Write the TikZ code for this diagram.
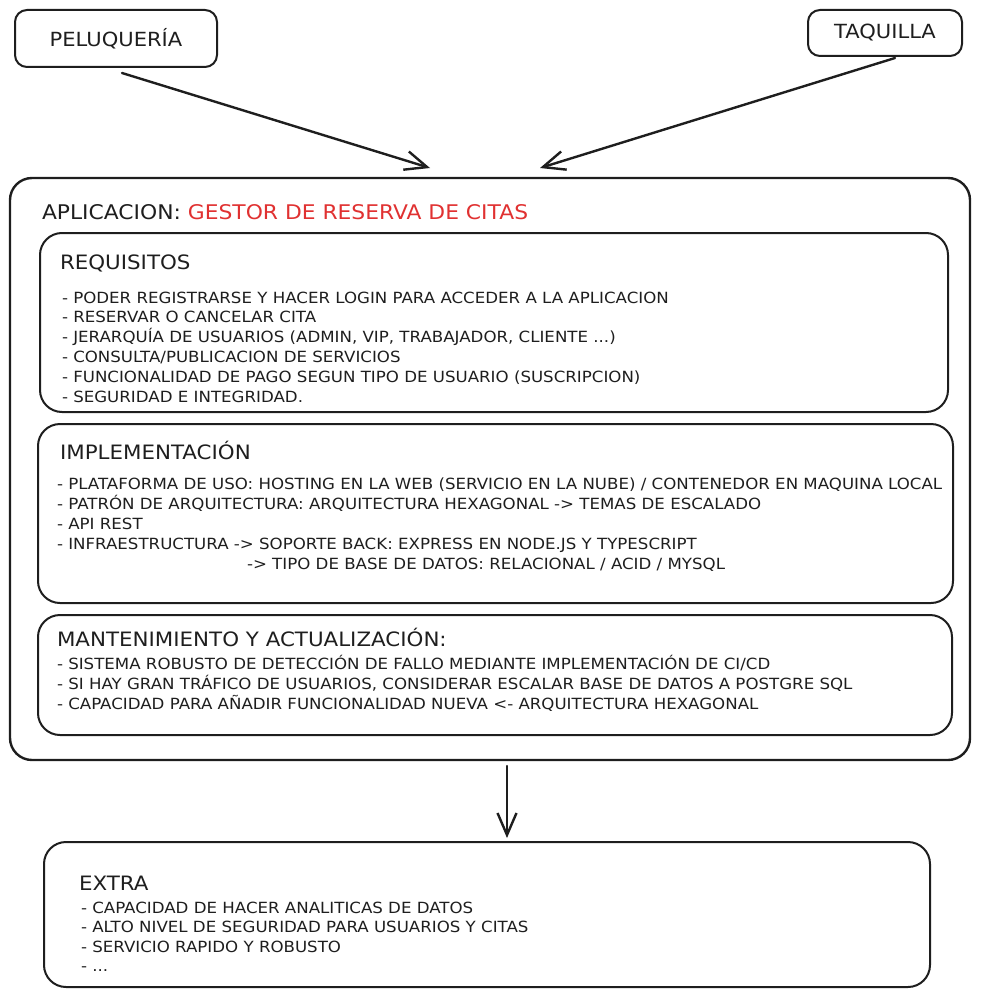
\documentclass[tikz,border=0pt]{standalone}
\usepackage{fontspec}
\setmainfont{DejaVu Sans}[FakeStretch=1.08]
\usetikzlibrary{arrows.meta,calc}
\definecolor{ink}{HTML}{1E1E1E}
\definecolor{accent}{HTML}{E03131}
\begin{document}
\begin{tikzpicture}[x=1pt,y=-1pt,
  frame/.style={draw=ink, line width=2pt, rounded corners=22pt, inner sep=0pt, outer sep=0pt},
  smallframe/.style={frame, rounded corners=12pt, text=ink, font=\fontsize{19.5}{22}\selectfont},
  body/.style={anchor=base west, inner sep=0pt, outer sep=0pt, text=ink, font=\fontsize{15.4}{18}\selectfont},
  head/.style={body, font=\fontsize{19.8}{22}\selectfont},
  conn/.style={draw=ink, line width=2.4pt, line cap=round,
    -{Straight Barb[length=22pt,width=19pt,line width=2.4pt]}}
]
\useasboundingbox (0,0) rectangle (980,998);

% sources
\node[smallframe, minimum width=202pt, minimum height=57pt] (pel) at (116,38.5) {PELUQUERÍA};
\node[smallframe, minimum width=154pt, minimum height=46pt] (taq) at (885,33) {TAQUILLA};

% application frame and its sections
\node[frame, line width=2.4pt, minimum width=960pt, minimum height=582pt] (app) at (490,469) {};
\node[frame, minimum width=908pt, minimum height=179pt] (req) at (494,322.5) {};
\node[frame, minimum width=915pt, minimum height=179pt] (impl) at (495.5,513.5) {};
\node[frame, minimum width=914pt, minimum height=120pt] (mant) at (495,675) {};

% extra block
\node[frame, minimum width=886pt, minimum height=145pt] (extra) at (487,914.5) {};

% connectors
\draw[conn] ($(pel.south)+(6,6)$) -- ($(app.north)+(-60,-10)$);
\draw[conn] ($(taq.south)+(10,2)$) -- ($(app.north)+(50,-10)$);
\draw[conn] ($(app.south)+(17,6)$) -- ($(extra.north)+(20,-4)$);

% application title
\node[head, font=\fontsize{20.2}{22}\selectfont] (apptitle) at (42,219) {APLICACION: \textcolor{accent}{GESTOR DE RESERVA DE CITAS}};

% requisitos
\node[head] (reqtitle) at (60,269) {REQUISITOS};
\node[body] (r1) at (62,303) {- PODER REGISTRARSE Y HACER LOGIN PARA ACCEDER A LA APLICACION};
\node[body] (r2) at (62,322) {- RESERVAR O CANCELAR CITA};
\node[body] (r3) at (62,342) {- JERARQUÍA DE USUARIOS (ADMIN, VIP, TRABAJADOR, CLIENTE ...)};
\node[body] (r4) at (62,362) {- CONSULTA/PUBLICACION DE SERVICIOS};
\node[body] (r5) at (62,382) {- FUNCIONALIDAD DE PAGO SEGUN TIPO DE USUARIO (SUSCRIPCION)};
\node[body] (r6) at (62,402) {- SEGURIDAD E INTEGRIDAD.};

% implementacion
\node[head] (impltitle) at (60,459) {IMPLEMENTACIÓN};
\node[body] (i1) at (57,489) {- PLATAFORMA DE USO: HOSTING EN LA WEB (SERVICIO EN LA NUBE) / CONTENEDOR EN MAQUINA LOCAL};
\node[body] (i2) at (57,509) {- PATRÓN DE ARQUITECTURA: ARQUITECTURA HEXAGONAL -> TEMAS DE ESCALADO};
\node[body] (i3) at (57,529) {- API REST};
\node[body] (i4) at (57,549) {- INFRAESTRUCTURA -> SOPORTE BACK: EXPRESS EN NODE.JS Y TYPESCRIPT};
\node[body] (i5) at (247,569) {-> TIPO DE BASE DE DATOS: RELACIONAL / ACID / MYSQL};

% mantenimiento
\node[head] (manttitle) at (57,646) {MANTENIMIENTO Y ACTUALIZACIÓN:};
\node[body] (m1) at (57,669) {- SISTEMA ROBUSTO DE DETECCIÓN DE FALLO MEDIANTE IMPLEMENTACIÓN DE CI/CD};
\node[body] (m2) at (57,689) {- SI HAY GRAN TRÁFICO DE USUARIOS, CONSIDERAR ESCALAR BASE DE DATOS A POSTGRE SQL};
\node[body] (m3) at (57,709) {- CAPACIDAD PARA AÑADIR FUNCIONALIDAD NUEVA <- ARQUITECTURA HEXAGONAL};

% extra
\node[head] (extratitle) at (79,890) {EXTRA};
\node[body] (e1) at (81,913) {- CAPACIDAD DE HACER ANALITICAS DE DATOS};
\node[body] (e2) at (81,932) {- ALTO NIVEL DE SEGURIDAD PARA USUARIOS Y CITAS};
\node[body] (e3) at (81,952) {- SERVICIO RAPIDO Y ROBUSTO};
\node[body] (e4) at (81,971) {- ...};
\end{tikzpicture}
\end{document}
